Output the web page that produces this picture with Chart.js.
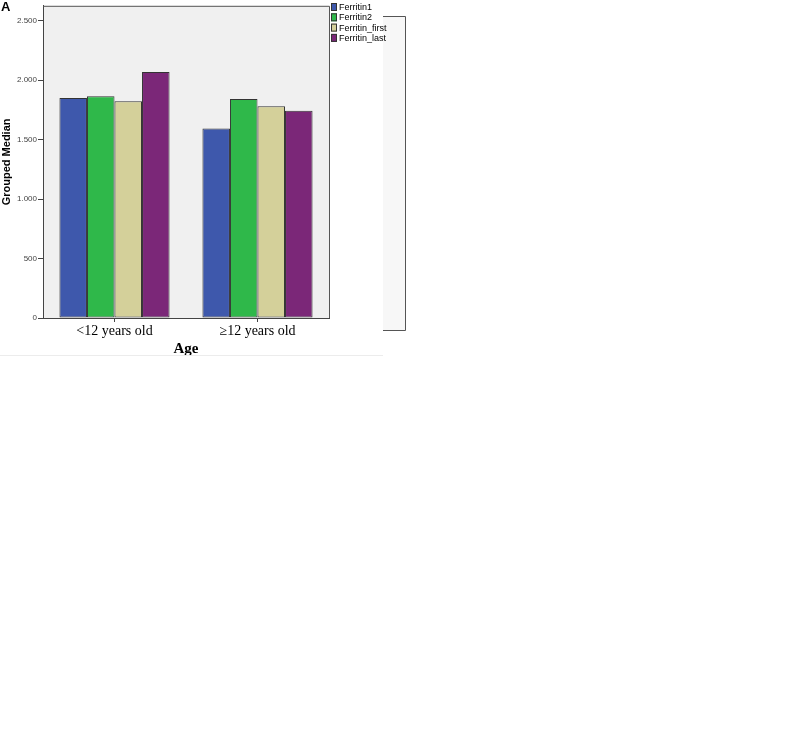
<!DOCTYPE html>
<html>
<head>
<meta charset="utf-8">
<script src="https://cdn.jsdelivr.net/npm/chart.js@4/dist/chart.umd.min.js"></script>
<style>
  html, body { margin: 0; padding: 0; background: #fff; }
  #wrap { width: 790px; height: 740px; }
</style>
</head>
<body>
<div id="wrap"><canvas id="chart" width="790" height="740"></canvas></div>
<script>
const ageGroups = ['<12 years old', '\u226512 years old'];
const seriesNames = ['Ferritin1', 'Ferritin2', 'Ferritin_first', 'Ferritin_last'];
const ferritin1 = [1850, 1594];
const ferritin2 = [1864, 1842];
const ferritinFirst = [1822, 1781];
const ferritinLast = [2069, 1742];
const yTicks = [0, 500, 1000, 1500, 2000, 2500];

const colors = ['#3e58ac', '#2fb84a', '#d4d09a', '#7b2778'];
const seriesValues = [ferritin1, ferritin2, ferritinFirst, ferritinLast];

// frame, legend box and the stray "A" label from the original figure
const decor = {
    id: 'decor',
    beforeDraw(chart) {
        const { ctx, chartArea: a } = chart;
        ctx.save();
        ctx.fillStyle = '#f0f0f0';
        ctx.fillRect(a.left, a.top, a.right - a.left, a.bottom - a.top);
        ctx.restore();
    },
    afterDraw(chart) {
        const { ctx, chartArea: a } = chart;
        ctx.save();
        ctx.strokeStyle = '#555';
        ctx.lineWidth = 1;
        ctx.beginPath();
        ctx.moveTo(a.left, a.top + 0.5);
        ctx.lineTo(a.right + 0.5, a.top + 0.5);
        ctx.lineTo(a.right + 0.5, a.bottom);
        ctx.stroke();

        // legend side box
        ctx.fillStyle = '#f7f7f7';
        ctx.fillRect(383, 16, 23, 315);
        ctx.beginPath();
        ctx.moveTo(383, 16.5);
        ctx.lineTo(405.5, 16.5);
        ctx.lineTo(405.5, 330.5);
        ctx.lineTo(383, 330.5);
        ctx.stroke();

        // faint line under the axis title
        ctx.strokeStyle = '#ececec';
        ctx.beginPath();
        ctx.moveTo(0, 355.5);
        ctx.lineTo(383, 355.5);
        ctx.stroke();

        // legend entries
        ctx.font = '9px Arial, "Liberation Sans", sans-serif';
        ctx.textBaseline = 'middle';
        chart.data.datasets.forEach((ds, i) => {
            const y = 7 + i * 10.3;
            ctx.fillStyle = ds.backgroundColor;
            ctx.fillRect(331, y - 4, 6, 8);
            ctx.strokeStyle = '#333';
            ctx.strokeRect(331.5, y - 3.5, 5, 7);
            ctx.fillStyle = '#000';
            ctx.fillText(ds.label, 339, y + 0.5);
        });

        ctx.font = 'bold 13px Arial, "Liberation Sans", sans-serif';
        ctx.textBaseline = 'top';
        ctx.fillStyle = '#000';
        ctx.fillText('A', 1, 1);
        ctx.restore();
    }
};

new Chart(document.getElementById('chart'), {
    type: 'bar',
    data: {
        labels: ageGroups,
        datasets: seriesNames.map((name, i) => ({
            label: name,
            data: seriesValues[i],
            backgroundColor: colors[i],
            borderColor: '#333',
            borderWidth: 1,
            borderSkipped: false,
            categoryPercentage: 0.77,
            barPercentage: 1
        }))
    },
    options: {
        responsive: false,
        animation: false,
        layout: { padding: { top: 3, left: 0, right: 461, bottom: 382 } },
        plugins: {
            legend: { display: false },
            tooltip: { enabled: false }
        },
        scales: {
            x: {
                afterFit: (scale) => { scale.height = 40; },
                grid: { display: true, drawOnChartArea: false, offset: false, tickLength: 4, color: '#444' },
                border: { display: true, color: '#444' },
                ticks: {
                    color: '#000',
                    padding: 1,
                    font: { family: '"Times New Roman", "Liberation Serif", serif', size: 14 }
                },
                title: {
                    display: true,
                    text: 'Age',
                    color: '#000',
                    padding: { top: 0, bottom: 0 },
                    font: { family: '"Times New Roman", "Liberation Serif", serif', size: 15, weight: 'bold' }
                }
            },
            y: {
                min: 0,
                max: 2625,
                afterFit: (scale) => { scale.width = 43; },
                afterBuildTicks: (scale) => {
                    scale.ticks = yTicks.map(v => ({ value: v }));
                },
                grid: { display: true, drawOnChartArea: false, tickLength: 5, color: '#444' },
                border: { display: true, color: '#444' },
                ticks: {
                    color: '#444',
                    padding: 1,
                    font: { family: 'Arial, "Liberation Sans", sans-serif', size: 8 },
                    callback: (v) => String(v).replace(/\B(?=(\d{3})+(?!\d))/g, '.')
                },
                title: {
                    display: true,
                    text: 'Grouped Median',
                    color: '#000',
                    padding: { top: 0, bottom: 0 },
                    font: { family: 'Arial, "Liberation Sans", sans-serif', size: 11, weight: 'bold' }
                }
            }
        }
    },
    plugins: [decor]
});
</script>
</body>
</html>
